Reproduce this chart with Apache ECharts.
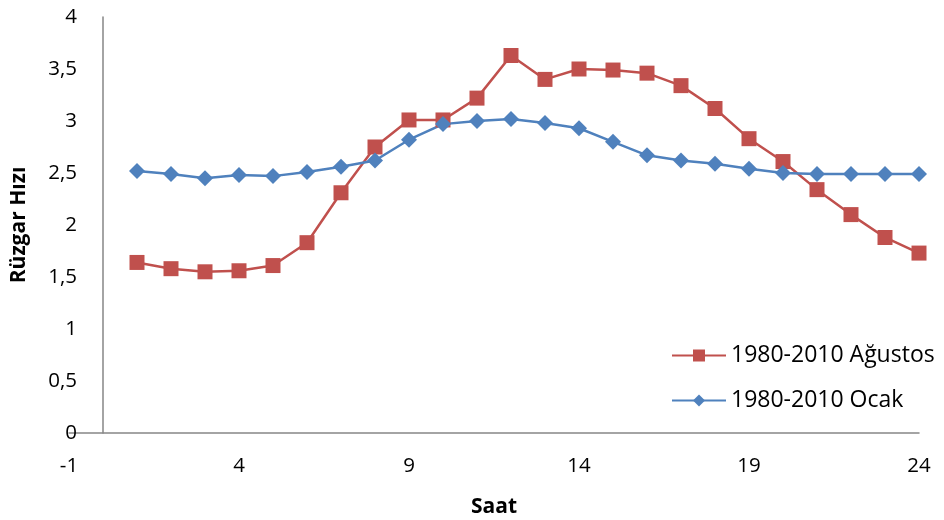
<!DOCTYPE html>
<html>
<head>
<meta charset="utf-8">
<script src="https://cdn.jsdelivr.net/npm/echarts@6/dist/echarts.min.js"></script>
<style>html,body{margin:0;padding:0;background:#fff}#c{width:944px;height:520px}</style>
</head>
<body>
<div id="c"></div>
<script>
var hours = [1,2,3,4,5,6,7,8,9,10,11,12,13,14,15,16,17,18,19,20,21,22,23,24];
var agustos = [1.64,1.58,1.55,1.56,1.61,1.83,2.31,2.75,3.01,3.01,3.22,3.63,3.40,3.50,3.49,3.46,3.34,3.12,2.83,2.61,2.34,2.10,1.88,1.73];
var ocak = [2.52,2.49,2.45,2.48,2.47,2.51,2.56,2.62,2.82,2.97,3.00,3.02,2.98,2.93,2.80,2.67,2.62,2.59,2.54,2.50,2.49,2.49,2.49,2.49];
var xTicks = [-1,4,9,14,19,24];
var seriesNames = ['1980-2010 Ağustos','1980-2010 Ocak'];
var xName = 'Saat';
var yName = 'Rüzgar Hızı';

function pairs(vals){ return hours.map(function(h,i){ return [h, vals[i]]; }); }
var font = '"Open Sans", Lato, sans-serif';
var fs = 20.5;
var chart = echarts.init(document.getElementById('c'), null, {renderer:'canvas'});
chart.setOption({
  animation:false,
  backgroundColor:'#fff',
  textStyle:{fontFamily:font},
  grid:{left:69, right:25, top:17, bottom:87, containLabel:false, outerBoundsMode:'none'},
  legend:{
    orient:'vertical', left:671, top:344, padding:0, itemWidth:54, itemHeight:15, itemGap:22,
    data:seriesNames,
    textStyle:{fontFamily:font, fontSize:23, color:'#000'}
  },
  xAxis:{
    type:'value', min:-1, max:24,
    name:xName, nameLocation:'middle', nameGap:64,
    nameTextStyle:{fontFamily:font, fontSize:21, fontWeight:'bold', color:'#000'},
    axisLine:{show:true, onZero:false, lineStyle:{color:'#868686', width:1.5}},
    axisTick:{show:false},
    splitLine:{show:false},
    axisLabel:{customValues:xTicks, margin:23, fontFamily:font, fontSize:fs, color:'#000'}
  },
  yAxis:{
    type:'value', min:0, max:4, interval:0.5,
    name:yName, nameLocation:'middle', nameGap:39, nameRotate:90,
    nameTextStyle:{fontFamily:font, fontSize:21, fontWeight:'bold', color:'#000'},
    axisLine:{show:true, onZero:true, lineStyle:{color:'#868686', width:1.5}},
    axisTick:{show:false},
    splitLine:{show:false},
    axisLabel:{margin:-8, fontFamily:font, fontSize:fs, color:'#000',
      formatter:function(v){ return String(v).replace('.', ','); }}
  },
  series:[
    {name:seriesNames[0], type:'line', data:pairs(agustos), symbol:'rect', symbolSize:15,
     itemStyle:{color:'#C0504D'}, lineStyle:{color:'#C0504D', width:2.5}},
    {name:seriesNames[1], type:'line', data:pairs(ocak), symbol:'diamond', symbolSize:16,
     itemStyle:{color:'#4F81BD'}, lineStyle:{color:'#4F81BD', width:2.5}}
  ]
});
</script>
</body>
</html>
